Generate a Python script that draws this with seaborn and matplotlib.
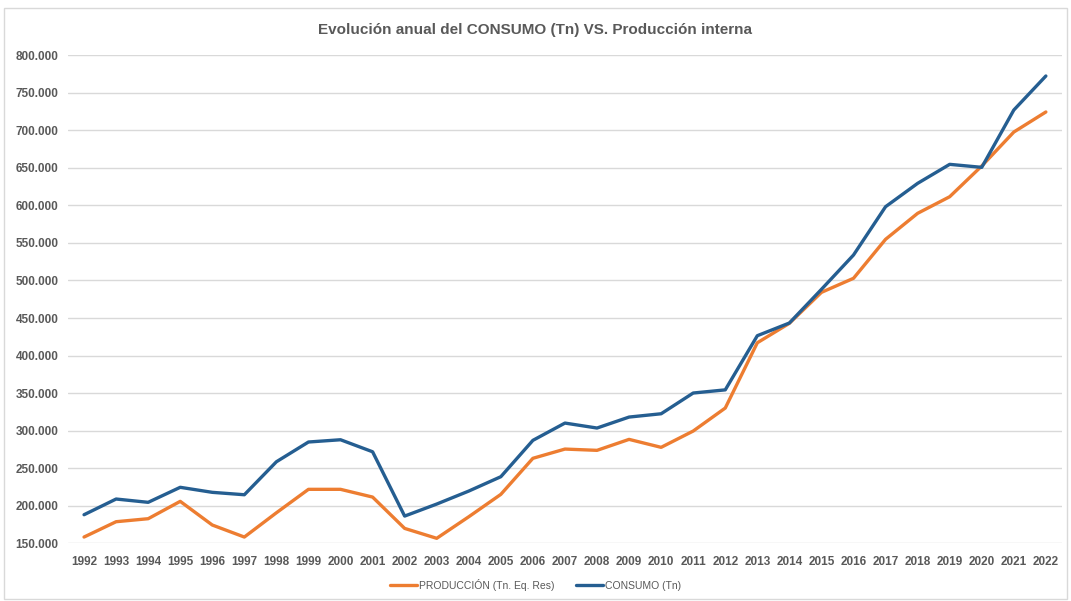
import pandas as pd
import matplotlib.pyplot as plt
import matplotlib.ticker as mticker
from matplotlib.patches import Rectangle
import seaborn as sns

# Datos
anios = list(range(1992, 2023))
produccion = [158500, 178900, 182900, 206000, 174500, 158500, 190800, 222000, 222000, 211700,
              170000, 156800, 185500, 215300, 263300, 275600, 273900, 288500, 277900, 299600,
              330200, 417100, 443000, 484200, 502900, 554800, 589400, 611500, 652400, 697600,
              724300]
consumo = [188200, 209100, 204700, 224700, 218000, 214800, 258700, 285000, 288000, 272000,
           186400, 202400, 219700, 238800, 287200, 310200, 303600, 318200, 322600, 350200,
           354400, 426500, 443400, 488200, 533900, 598200, 629300, 654600, 650600, 726900,
           772200]
series = ['PRODUCCIÓN (Tn. Eq. Res)', 'CONSUMO (Tn)']
colores = ['#ED7D31', '#255E91']
y_ticks = list(range(150000, 800001, 50000))

df = pd.DataFrame({
    'Año': anios * 2,
    'Valor': produccion + consumo,
    'Serie': [series[0]] * len(anios) + [series[1]] * len(anios),
})

sns.set_style('white')
plt.rcParams['font.family'] = ['Liberation Sans', 'DejaVu Sans']
gris = '#595959'

fig = plt.figure(figsize=(10.71, 6.01), dpi=100)
ax = fig.add_axes([0.0635, 0.0958, 0.928, 0.8125])

sns.lineplot(data=df, x='Año', y='Valor', hue='Serie', palette=colores,
             linewidth=2.4, ax=ax, legend=True)

ax.set_xlim(1991.5, 2022.5)
ax.set_ylim(150000, 800000)
ax.set_xticks(anios)
ax.set_yticks(y_ticks)
ax.yaxis.set_major_formatter(mticker.FuncFormatter(lambda v, p: f'{int(v):,}'.replace(',', '.')))
ax.tick_params(axis='both', length=0, labelsize=8.5, colors=gris)
ax.tick_params(axis='y', pad=7)
ax.tick_params(axis='x', pad=9)
for lbl in ax.get_xticklabels() + ax.get_yticklabels():
    lbl.set_fontweight('bold')
ax.grid(axis='y', color='#D9D9D9', linewidth=1)
ax.set_axisbelow(True)
for s in ax.spines.values():
    s.set_visible(False)
ax.set_xlabel('')
ax.set_ylabel('')

handles, labels = ax.get_legend_handles_labels()
ax.get_legend().remove()
fig.legend(handles, labels, loc='center', bbox_to_anchor=(0.5, 0.027), ncol=2,
           frameon=False, fontsize=7.5, handlelength=2.6, handletextpad=0.2,
           columnspacing=2, labelcolor=gris)

fig.suptitle('Evolución anual del CONSUMO (Tn) VS. Producción interna', y=0.95, va='center',
             fontsize=11, fontweight='bold', color=gris)

fig.patches.append(Rectangle((0.004, 0.003), 0.992, 0.984, transform=fig.transFigure,
                             fill=False, edgecolor='#D9D9D9', linewidth=1))

fig.savefig('out.png', dpi=100)
